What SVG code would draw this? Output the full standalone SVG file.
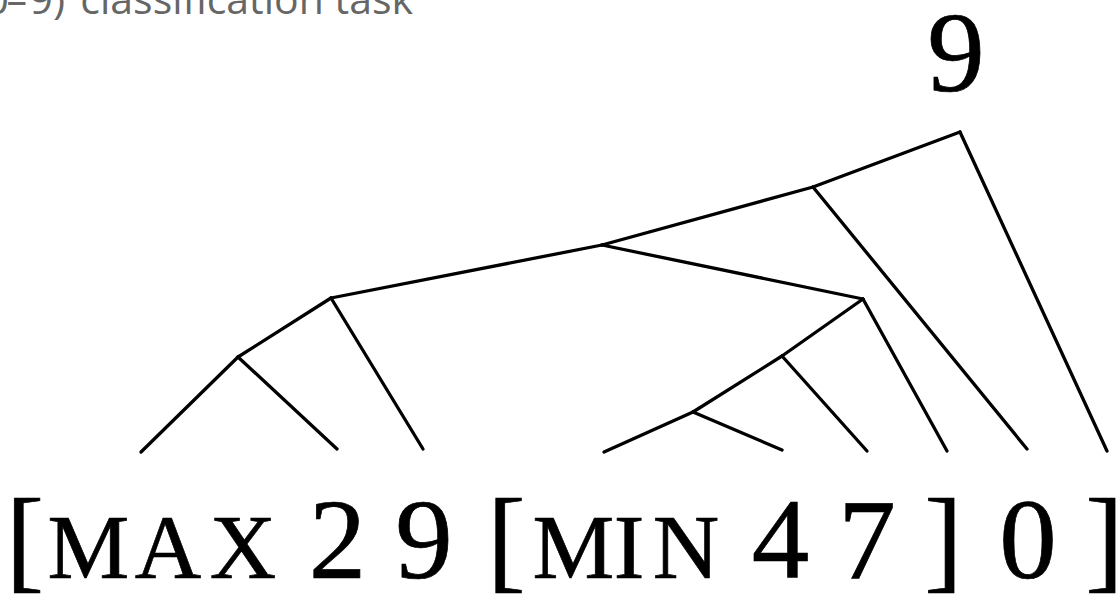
<svg xmlns="http://www.w3.org/2000/svg" width="1120" height="599" viewBox="0 0 1120 599">
  <style>
    .edge { stroke: #000; stroke-width: 3.3; stroke-linecap: round; fill: none; }
    .tok { font-family: 'Liberation Serif', 'Times New Roman', serif; fill: #000; stroke: #000; stroke-width: 0.7; text-anchor: middle; }
    .big { font-size: 115px; }
    .sc { font-size: 92px; }
    .caption { font-family: 'Open Sans', 'Liberation Sans', sans-serif; font-size: 41px; fill: #666; }
  </style>
  <rect width="1120" height="599" fill="#fff"/>
  <text class="caption" y="14" text-anchor="end"><tspan x="9">(0</tspan><tspan x="27">–</tspan><tspan x="65">9)</tspan><tspan x="413">classification task</tspan></text>
  <g id="connectors">
    <line class="edge" x1="960" y1="132" x2="813" y2="187"/>
    <line class="edge" x1="960" y1="132" x2="1107" y2="451"/>
    <line class="edge" x1="813" y1="187" x2="602" y2="245"/>
    <line class="edge" x1="813" y1="187" x2="1027" y2="449"/>
    <line class="edge" x1="602" y1="245" x2="331" y2="298"/>
    <line class="edge" x1="602" y1="245" x2="863" y2="299"/>
    <line class="edge" x1="331" y1="298" x2="238" y2="357"/>
    <line class="edge" x1="331" y1="298" x2="423" y2="449"/>
    <line class="edge" x1="238" y1="357" x2="141" y2="452"/>
    <line class="edge" x1="238" y1="357" x2="337" y2="449"/>
    <line class="edge" x1="863" y1="299" x2="782" y2="356"/>
    <line class="edge" x1="863" y1="299" x2="947" y2="451"/>
    <line class="edge" x1="782" y1="356" x2="693" y2="412"/>
    <line class="edge" x1="782" y1="356" x2="867" y2="451"/>
    <line class="edge" x1="693" y1="412" x2="604" y2="452"/>
    <line class="edge" x1="693" y1="412" x2="782" y2="450"/>
  </g>
  <g id="root"><text class="tok big" x="956" y="91">9</text></g>
  <g id="tok-lb1"><text class="tok big" x="25" y="578">[</text></g>
  <g id="tok-max">
    <text class="tok sc" x="88.5" y="578">M</text>
    <text class="tok sc" x="168" y="578">A</text>
    <text class="tok sc" x="243" y="578">X</text>
  </g>
  <g id="tok-2"><text class="tok big" x="337.5" y="578">2</text></g>
  <g id="tok-9"><text class="tok big" x="424" y="578">9</text></g>
  <g id="tok-lb2"><text class="tok big" x="506.5" y="578">[</text></g>
  <g id="tok-min">
    <text class="tok sc" x="573.5" y="578">M</text>
    <text class="tok sc" x="629" y="578">I</text>
    <text class="tok sc" x="686" y="578">N</text>
  </g>
  <g id="tok-4"><text class="tok big" x="780.5" y="578">4</text></g>
  <g id="tok-7"><text class="tok big" x="867" y="578">7</text></g>
  <g id="tok-rb1"><text class="tok big" x="943.5" y="578">]</text></g>
  <g id="tok-0"><text class="tok big" x="1028" y="578">0</text></g>
  <g id="tok-rb2"><text class="tok big" x="1104.5" y="578">]</text></g>
</svg>
